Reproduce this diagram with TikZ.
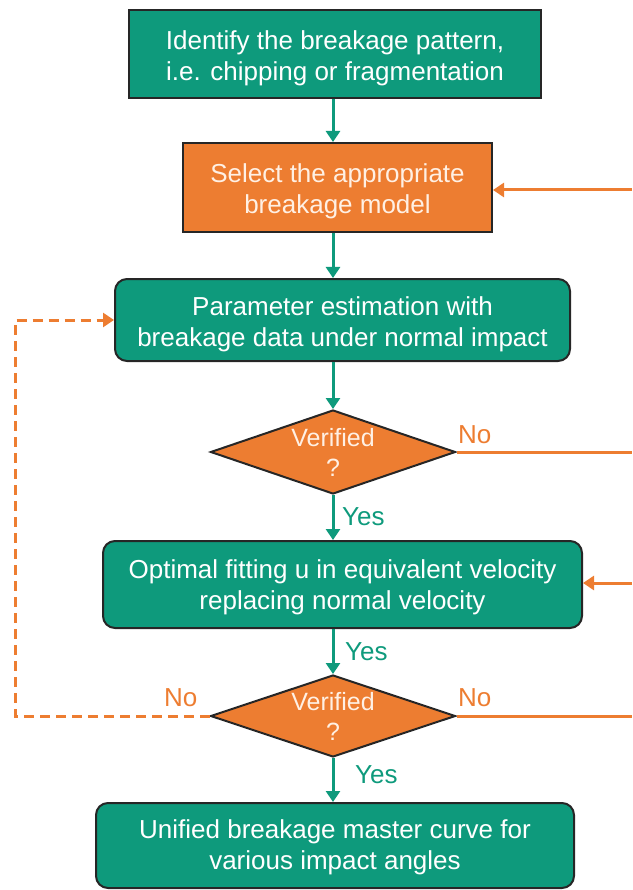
\documentclass[tikz,border=0pt]{standalone}
\usepackage{fontspec}
\setmainfont{Liberation Sans}
\usetikzlibrary{shapes.geometric,arrows.meta}
\definecolor{tgreen}{RGB}{14,154,124}
\definecolor{torange}{RGB}{237,125,49}
\definecolor{tborder}{RGB}{38,38,38}
\definecolor{tcream}{RGB}{255,240,228}
\tikzset{
  box/.style={draw=tborder,line width=2pt,fill=tgreen,inner sep=0pt},
  obox/.style={box,fill=torange},
  rbox/.style={box,rounded corners=12pt},
  btext/.style={text=white,align=center,inner sep=0pt,font=\fontsize{26}{31}\selectfont},
  otext/.style={btext,text=tcream},
  dia/.style={diamond,draw=tborder,line width=2pt,fill=torange,inner sep=0pt,aspect=2.9},
  dtext/.style={text=tcream,align=center,font=\fontsize{25}{30}\selectfont},
  garrow/.style={draw=tgreen,line width=3pt,-{Triangle[width=14pt,length=11pt]}},
  oline/.style={draw=torange,line width=3pt},
  oarrow/.style={oline,-{Triangle[width=14pt,length=11pt]}},
  glab/.style={text=tgreen,inner sep=0pt,font=\fontsize{26}{30}\selectfont},
  olab/.style={text=torange,inner sep=0pt,font=\fontsize{26}{30}\selectfont},
}
\begin{document}
\begin{tikzpicture}[x=1pt,y=1pt]
\useasboundingbox (0,0) rectangle (632,-890);
\node[box,minimum width=412pt,minimum height=88pt] (b1) at (335,-54) {};
\node[btext] (b1t) at ([yshift=-4pt]b1.center) {Identify the breakage pattern,\\i.e. chipping or fragmentation};
\node[obox,minimum width=309pt,minimum height=89pt] (b2) at (337.5,-187.5) {};
\node[otext] (b2t) at ([yshift=-4pt]b2.center) {Select the appropriate\\breakage model};
\node[rbox,minimum width=455pt,minimum height=82pt] (b3) at (342.5,-320) {};
\node[btext] (b3t) at ([yshift=-4pt]b3.center) {Parameter estimation with\\breakage data under normal impact};
\node[dia,minimum width=245pt,minimum height=84pt] (d1) at (333,-452) {};
\node[dtext] (t1) at (d1.center) {Verified\\?};
\node[rbox,minimum width=479pt,minimum height=87pt] (b4) at (342.5,-584.5) {};
\node[btext] (b4t) at ([yshift=-3pt]b4.center) {Optimal fitting u in equivalent velocity\\replacing normal velocity};
\node[dia,minimum width=245pt,minimum height=82pt] (d2) at (333,-716) {};
\node[dtext] (t2) at (d2.center) {Verified\\?};
\node[rbox,minimum width=478pt,minimum height=85pt] (b5) at (335,-845.5) {};
\node[btext] (b5t) at ([yshift=-2pt]b5.center) {Unified breakage master curve for\\various impact angles};
% vertical flow arrows
\draw[garrow] (b1.south -| d1) -- (b2.north -| d1);
\draw[garrow] (b2.south -| d1) -- (b3.north -| d1);
\draw[garrow] (b3.south -| d1) -- (d1.north);
\draw[garrow] (d1.south) -- (b4.north -| d1);
\draw[garrow] (b4.south -| d1) -- (d2.north);
\draw[garrow] (d2.south) -- (b5.north -| d1);
% labels
\node[glab,anchor=west] (y1) at (342,-517) {Yes};
\node[glab,anchor=west] (y2) at (345,-652) {Yes};
\node[glab,anchor=west] (y3) at (355,-775) {Yes};
\node[olab,anchor=west] (n1) at (458,-435) {No};
\node[olab,anchor=west] (n2) at (458,-698) {No};
\node[olab,anchor=west] (n3) at (164,-698) {No};
% right feedback lines
\coordinate (r1) at (632,-190);
\coordinate (r2) at (632,-452);
\coordinate (r3) at (632,-583);
\coordinate (r4) at (632,-716);
\draw[oarrow] (r1) -- (r1 -| b2.east);
\draw[oline] (d1.east) -- (r2);
\draw[oarrow] (r3) -- (r3 -| b4.east);
\draw[oline] (d2.east) -- (r4);
% left dashed loop
\coordinate (lc) at (15,-716);
\draw[oarrow,dash pattern=on 10pt off 6pt] (d2.west) -- (lc) |- (b3.west);
\end{tikzpicture}
\end{document}
